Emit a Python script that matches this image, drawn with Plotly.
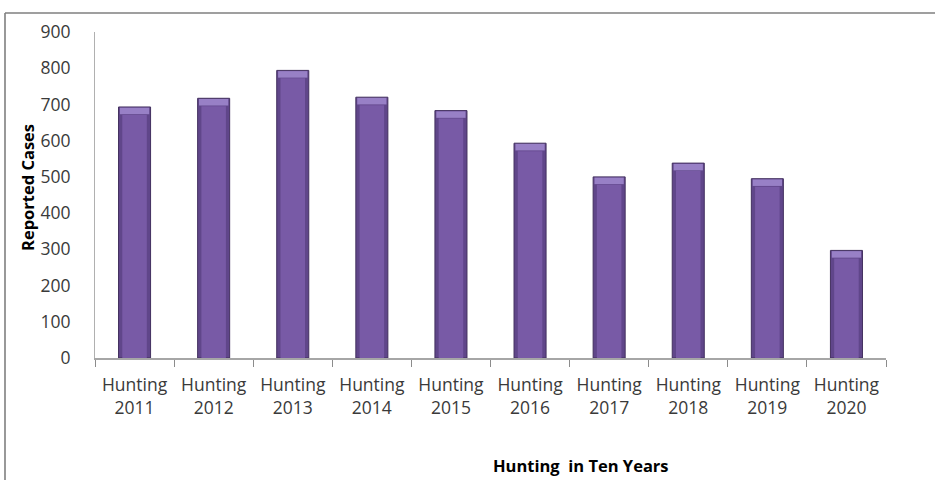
import plotly.graph_objects as go

years = ["2011", "2012", "2013", "2014", "2015", "2016", "2017", "2018", "2019", "2020"]
categories = ["Hunting<br>" + y for y in years]
cases = [693, 717, 794, 720, 683, 593, 500, 538, 495, 297]
y_ticks = [0, 100, 200, 300, 400, 500, 600, 700, 800, 900]

W, H = 935, 480
L, R, T, B = 95, 49, 32, 122
pw, ph = W - L - R, H - T - B

def px_x(x):
    return (x - L) / pw

def px_y(y):
    return (H - B - y) / ph

cap = 22  # bevel height in data units
fig = go.Figure()
fig.add_trace(go.Bar(
    x=categories, y=cases,
    marker=dict(color="#60468a", line=dict(color="#43305f", width=1)),
    width=0.405, hoverinfo="skip",
))
fig.add_trace(go.Bar(
    x=categories, y=[c - cap for c in cases],
    marker=dict(color="#785aa6", line=dict(width=0)),
    width=0.31,
))
fig.add_trace(go.Bar(
    x=categories, y=[cap - 4] * len(cases), base=[c - cap + 2 for c in cases],
    marker=dict(color="#9880c6", line=dict(width=0)),
    width=0.37, hoverinfo="skip",
))

font_family = "Open Sans, Lato, sans-serif"

border = dict(color="#7f7f7f", width=1.6)
fig.update_layout(
    width=W, height=H,
    margin=dict(l=L, r=R, t=T, b=B),
    paper_bgcolor="white", plot_bgcolor="white",
    showlegend=False, barmode="overlay",
    font=dict(family=font_family, color="#404040", size=15),
    xaxis=dict(
        showline=True, linecolor="#a6a6a6", linewidth=1.5,
        ticks="outside", tickson="boundaries", ticklen=7, tickcolor="#8c8c8c",
        showgrid=False, tickfont=dict(size=17.5, color="#3a3a3a"),
        ticklabelstandoff=10,
    ),
    yaxis=dict(
        range=[0, 900], tickvals=y_ticks, showline=True, linecolor="#b0b0b0",
        linewidth=1, ticks="", showgrid=False, zeroline=False,
        tickfont=dict(size=17.5, color="#3a3a3a"), ticklabelstandoff=20,
    ),
    shapes=[
        dict(type="line", xref="paper", yref="paper",
             x0=px_x(5), x1=px_x(940), y0=px_y(13), y1=px_y(13), line=border),
        dict(type="line", xref="paper", yref="paper",
             x0=px_x(5), x1=px_x(5), y0=px_y(13), y1=px_y(485), line=border),
    ],
    annotations=[
        dict(text="<b>Reported Cases</b>", xref="paper", yref="paper",
             x=px_x(27), y=px_y(188), textangle=-90, showarrow=False,
             font=dict(size=16.5, color="#000000"), xanchor="center", yanchor="middle"),
        dict(text="<b>Hunting&nbsp;&nbsp;in Ten Years</b>", xref="paper", yref="paper",
             x=px_x(581), y=px_y(466), showarrow=False,
             font=dict(size=16.5, color="#000000"), xanchor="center", yanchor="middle"),
    ],
)

fig.write_html("out.html")
